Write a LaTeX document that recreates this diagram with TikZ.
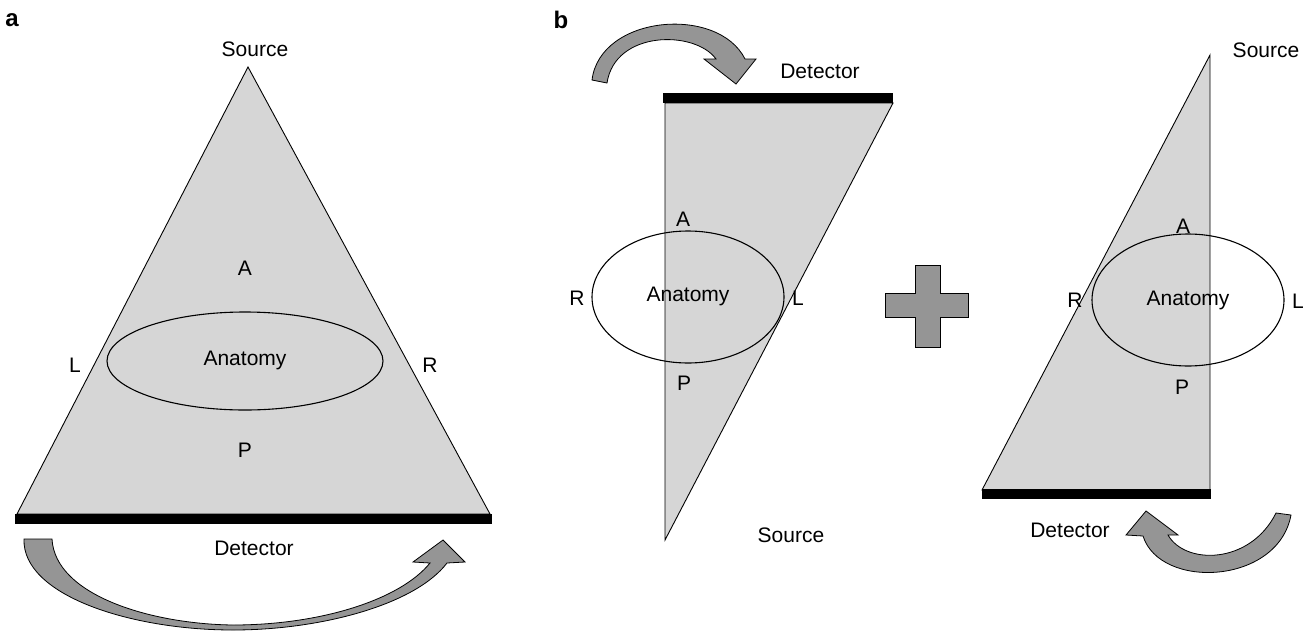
\documentclass[tikz,border=0pt]{standalone}
\usepackage{fontspec}
\setmainfont{Liberation Sans}
\begin{document}
\begin{tikzpicture}[x=1pt,y=-1pt,
  lbl/.style={font=\fontsize{21}{24}\selectfont, inner sep=0pt},
  panel/.style={font=\fontsize{24}{26}\selectfont\bfseries, inner sep=0pt},
  beam/.style={fill=beamgray, draw=black, line width=0.9pt, line join=miter},
  bar/.style={fill=black, draw=none},
  anat/.style={draw=black, line width=1.1pt},
  bigarrow/.style={fill=arrowgray, draw=black, line width=0.8pt, line join=miter}]
\definecolor{beamgray}{HTML}{D6D6D6}
\definecolor{arrowgray}{HTML}{959595}
\useasboundingbox (0,0) rectangle (1311,632);

% ---------- panel a ----------
\node[panel] (pa) at (12,20) {a};
\draw[beam] (248,67) -- (490,514) -- (17,514) -- cycle;
\fill[bar] (15,514) rectangle (492,524);
\draw[anat] (245,361) ellipse [x radius=138, y radius=49];
\node[lbl] (sa) at (255,49) {Source};
\node[lbl] (aa) at (245,268) {A};
\node[lbl] (la) at (75,365) {L};
\node[lbl] (ra) at (430,365) {R};
\node[lbl] (an1) at (245,360) {Anatomy};
\node[lbl] (pa1) at (245,450) {P};
\node[lbl] (da) at (254,548) {Detector};
\draw[bigarrow] (24,539) .. controls (22,595) and (130,630) .. (233,630)
  .. controls (320,630) and (415,605) .. (447,563)
  -- (465,562) -- (443,540) -- (413,562) -- (430,563)
  .. controls (400,600) and (320,625) .. (233,625)
  .. controls (150,624) and (55,595) .. (52,539) -- cycle;

% ---------- panel b, left ----------
\node[panel] (pb) at (561,20) {b};
\draw[beam] (665,103) -- (893,103) -- (665,540) -- cycle;
\fill[bar] (663,93) rectangle (893,103);
\draw[anat] (688,297) ellipse [x radius=96, y radius=66];
\node[lbl] (ab) at (683,219) {A};
\node[lbl] (rb) at (577,298) {R};
\node[lbl] (an2) at (688,296) {Anatomy};
\node[lbl] (lb) at (798,298) {L};
\node[lbl] (pb1) at (684,383) {P};
\node[lbl] (sb) at (791,535) {Source};
\node[lbl] (db) at (820,71) {Detector};
\draw[bigarrow] (592,80) .. controls (600,15) and (718,5) .. (745,59)
  -- (756,59) -- (736,84) -- (704,59) -- (716,59)
  .. controls (695,30) and (615,30) .. (607,83) -- cycle;

% ---------- plus ----------
\draw[bigarrow] (915,265) -- (940,265) -- (940,293) -- (968,293) -- (968,317)
  -- (940,317) -- (940,347) -- (915,347) -- (915,317) -- (885,317)
  -- (885,293) -- (915,293) -- cycle;

% ---------- panel b, right ----------
\draw[beam] (1210,55) -- (1210,490) -- (982,490) -- cycle;
\fill[bar] (982,489) rectangle (1211,499);
\draw[anat] (1188,300) ellipse [x radius=96, y radius=66];
\node[lbl] (ac) at (1183,226) {A};
\node[lbl] (rc) at (1075,300) {R};
\node[lbl] (an3) at (1188,300) {Anatomy};
\node[lbl] (lc) at (1298,301) {L};
\node[lbl] (pc) at (1182,387) {P};
\node[lbl] (sc) at (1266,50) {Source};
\node[lbl] (dc) at (1070,530) {Detector};
\draw[bigarrow] (1291,515) .. controls (1278,585) and (1160,590) .. (1143,536)
  -- (1126,535) -- (1146,511) -- (1178,535) -- (1168,535)
  .. controls (1185,565) and (1250,565) .. (1276,513) -- cycle;
\end{tikzpicture}
\end{document}
